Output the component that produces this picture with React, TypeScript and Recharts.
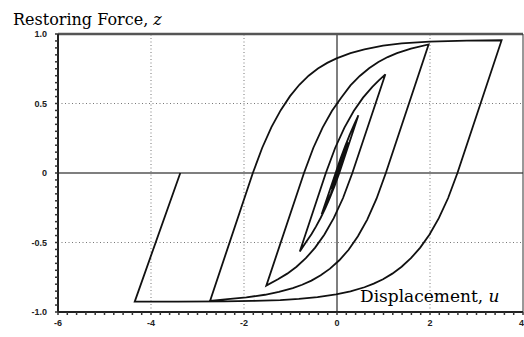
import { LineChart, Line, XAxis, YAxis, ReferenceLine } from "recharts";

// Axis ticks (displacement u, restoring force z)
const uTicks = [-6, -4, -2, 0, 2, 4];
const uTickLabels = ["-6", "-4", "-2", "0", "2", "4"];
const zTicks = [-1, -0.5, 0, 0.5, 1];
const zTickLabels = ["-1.0", "-0.5", "0", "0.5", "1.0"];

// minor tick marks along the frame
const uMinorTicks = [
  -6, -5.8, -5.6, -5.4, -5.2, -5, -4.8, -4.6, -4.4, -4.2, -4, -3.8, -3.6, -3.4, -3.2, -3, -2.8,
  -2.6, -2.4, -2.2, -2, -1.8, -1.6, -1.4, -1.2, -1, -0.8, -0.6, -0.4, -0.2, 0, 0.2, 0.4, 0.6,
  0.8, 1, 1.2, 1.4, 1.6, 1.8, 2, 2.2, 2.4, 2.6, 2.8, 3, 3.2, 3.4, 3.6, 3.8, 4,
];
const zMinorTicks = [
  -1, -0.95, -0.9, -0.85, -0.8, -0.75, -0.7, -0.65, -0.6, -0.55, -0.5, -0.45, -0.4, -0.35,
  -0.3, -0.25, -0.2, -0.15, -0.1, -0.05, 0, 0.05, 0.1, 0.15, 0.2, 0.25, 0.3, 0.35, 0.4, 0.45,
  0.5, 0.55, 0.6, 0.65, 0.7, 0.75, 0.8, 0.85, 0.9, 0.95, 1,
];

const uGrid = [-4, -2, 2];
const zGrid = [-0.5, 0.5];

// Hysteresis path, branch by branch: [u, z]
const innerCycles: [number, number][] = [
  [0, 0], [0.06, 0.058], [0.12, 0.113],
  [0.01, 0], [-0.05, -0.055], [-0.12, -0.119],
  [0, 0], [0.06, 0.058], [0.12, 0.113], [0.18, 0.164], [0.25, 0.221],
  [0.03, 0], [-0.05, -0.076], [-0.13, -0.146], [-0.23, -0.226], [-0.33, -0.297],
  [-0.03, 0], [0.07, 0.098], [0.17, 0.188], [0.27, 0.272], [0.37, 0.35], [0.46, 0.415],
  [0.05, 0], [-0.05, -0.091], [-0.15, -0.176], [-0.25, -0.253], [-0.35, -0.322],
  [-0.45, -0.384], [-0.55, -0.44], [-0.65, -0.489], [-0.8, -0.565],
];
const cycle1Up: [number, number][] = [
  [-0.24, 0], [-0.04, 0.18], [0.16, 0.327], [0.36, 0.446], [0.56, 0.542], [0.76, 0.62],
  [0.9, 0.666], [1.04, 0.71],
];
const cycle1Down: [number, number][] = [
  [0.33, 0], [0.13, -0.18], [-0.07, -0.325], [-0.27, -0.442], [-0.47, -0.537], [-0.67, -0.613],
  [-0.87, -0.674], [-1.07, -0.724], [-1.27, -0.764], [-1.52, -0.81],
];
const cycle2Up: [number, number][] = [
  [-0.71, 0], [-0.51, 0.18], [-0.31, 0.327], [-0.11, 0.446], [0.09, 0.542], [0.29, 0.63],
  [0.49, 0.698], [0.69, 0.754], [0.89, 0.798], [1.09, 0.834], [1.29, 0.862], [1.59, 0.895],
  [1.97, 0.925],
];
const cycle2Down: [number, number][] = [
  [1.05, 0], [0.85, -0.185], [0.65, -0.335], [0.45, -0.455], [0.25, -0.552], [0.05, -0.628],
  [-0.15, -0.688], [-0.35, -0.736], [-0.55, -0.774], [-0.75, -0.804], [-0.95, -0.828],
  [-1.25, -0.856], [-1.55, -0.876], [-1.95, -0.895], [-2.35, -0.908], [-2.73, -0.92],
];
const cycle3Up: [number, number][] = [
  [-1.81, 0], [-1.61, 0.18], [-1.41, 0.33], [-1.21, 0.452], [-1.01, 0.553], [-0.81, 0.635],
  [-0.61, 0.7], [-0.41, 0.752], [-0.21, 0.792], [-0.01, 0.825], [0.29, 0.862], [0.59, 0.89],
  [0.99, 0.916], [1.39, 0.932], [1.99, 0.945], [2.79, 0.952], [3.54, 0.955],
];
const cycle3Down: [number, number][] = [
  [2.59, 0], [2.39, -0.18], [2.19, -0.325], [1.99, -0.442], [1.79, -0.537], [1.59, -0.613],
  [1.39, -0.674], [1.19, -0.724], [0.99, -0.764], [0.79, -0.796], [0.59, -0.822],
  [0.29, -0.852], [-0.02, -0.873], [-0.42, -0.893], [-0.82, -0.906], [-1.22, -0.914],
  [-1.82, -0.92], [-2.42, -0.923], [-3.42, -0.925], [-4.35, -0.925],
];
const finalReload: [number, number][] = [[-3.37, 0]];

const path = [
  ...innerCycles,
  ...cycle1Up,
  ...cycle1Down,
  ...cycle2Up,
  ...cycle2Down,
  ...cycle3Up,
  ...cycle3Down,
  ...finalReload,
].map(([u, z]) => ({ u, z }));

const tickFont = {
  fontSize: 9,
  fontWeight: 700,
  fill: "#222",
  fontFamily: "'Liberation Sans', Arial, sans-serif",
};

const labelFont = "'DejaVu Serif', serif";

// x tick: only the major values get a label; the last one hugs the frame
function UTick(props: any) {
  const { x, y, payload } = props;
  const i = uTicks.indexOf(payload.value);
  if (i < 0) return <g />;
  const last = i === uTicks.length - 1;
  return (
    <text
      x={last ? x + 1 : x}
      y={y}
      dy="0.71em"
      textAnchor={last ? "end" : "middle"}
      {...tickFont}
    >
      {uTickLabels[i]}
    </text>
  );
}

export default function App() {
  return (
    <div style={{ position: "absolute", left: 0, top: 0, width: 524, height: 337, background: "#fff" }}>
      <LineChart width={524} height={337} data={path} margin={{ top: 34, right: 1, bottom: 0, left: 0 }}>
        <XAxis
          dataKey="u"
          type="number"
          domain={[-6, 4]}
          ticks={uMinorTicks}
          interval={0}
          height={25}
          tickSize={3}
          tickMargin={5}
          tick={<UTick />}
          axisLine={{ stroke: "#222", strokeWidth: 2 }}
          tickLine={{ stroke: "#333", strokeWidth: 1.5 }}
        />
        <YAxis
          type="number"
          domain={[-1, 1]}
          ticks={zMinorTicks}
          interval={0}
          width={58}
          tickSize={3}
          tickMargin={8}
          tick={tickFont}
          axisLine={{ stroke: "#222", strokeWidth: 2 }}
          tickLine={{ stroke: "#333", strokeWidth: 1.5 }}
          tickFormatter={(v: number) => {
            const i = zTicks.indexOf(v);
            return i >= 0 ? zTickLabels[i] : "";
          }}
        />
        {uGrid.map((u) => (
          <ReferenceLine key={`u${u}`} x={u} stroke="#777" strokeWidth={1} strokeDasharray="1 2.5" />
        ))}
        {zGrid.map((z) => (
          <ReferenceLine key={`z${z}`} y={z} stroke="#777" strokeWidth={1} strokeDasharray="1 2.5" />
        ))}
        <ReferenceLine x={0} stroke="#555" strokeWidth={1.5} />
        <ReferenceLine y={0} stroke="#555" strokeWidth={1.5} />
        <ReferenceLine y={1} stroke="#555" strokeWidth={2.5} />
        <ReferenceLine x={4} stroke="#333" strokeWidth={1} />
        <Line
          dataKey="z"
          type="linear"
          stroke="#111"
          strokeWidth={1.8}
          dot={false}
          activeDot={false}
          isAnimationActive={false}
        />
      </LineChart>
      <svg width={524} height={337} style={{ position: "absolute", left: 0, top: 0, pointerEvents: "none" }}>
        <text x={13} y={25} fontFamily={labelFont} fontSize={16} fill="#000">
          Restoring Force, <tspan fontStyle="italic">z</tspan>
        </text>
        <text x={360} y={302} fontFamily={labelFont} fontSize={17} fill="#000">
          Displacement, <tspan fontStyle="italic">u</tspan>
        </text>
      </svg>
    </div>
  );
}
